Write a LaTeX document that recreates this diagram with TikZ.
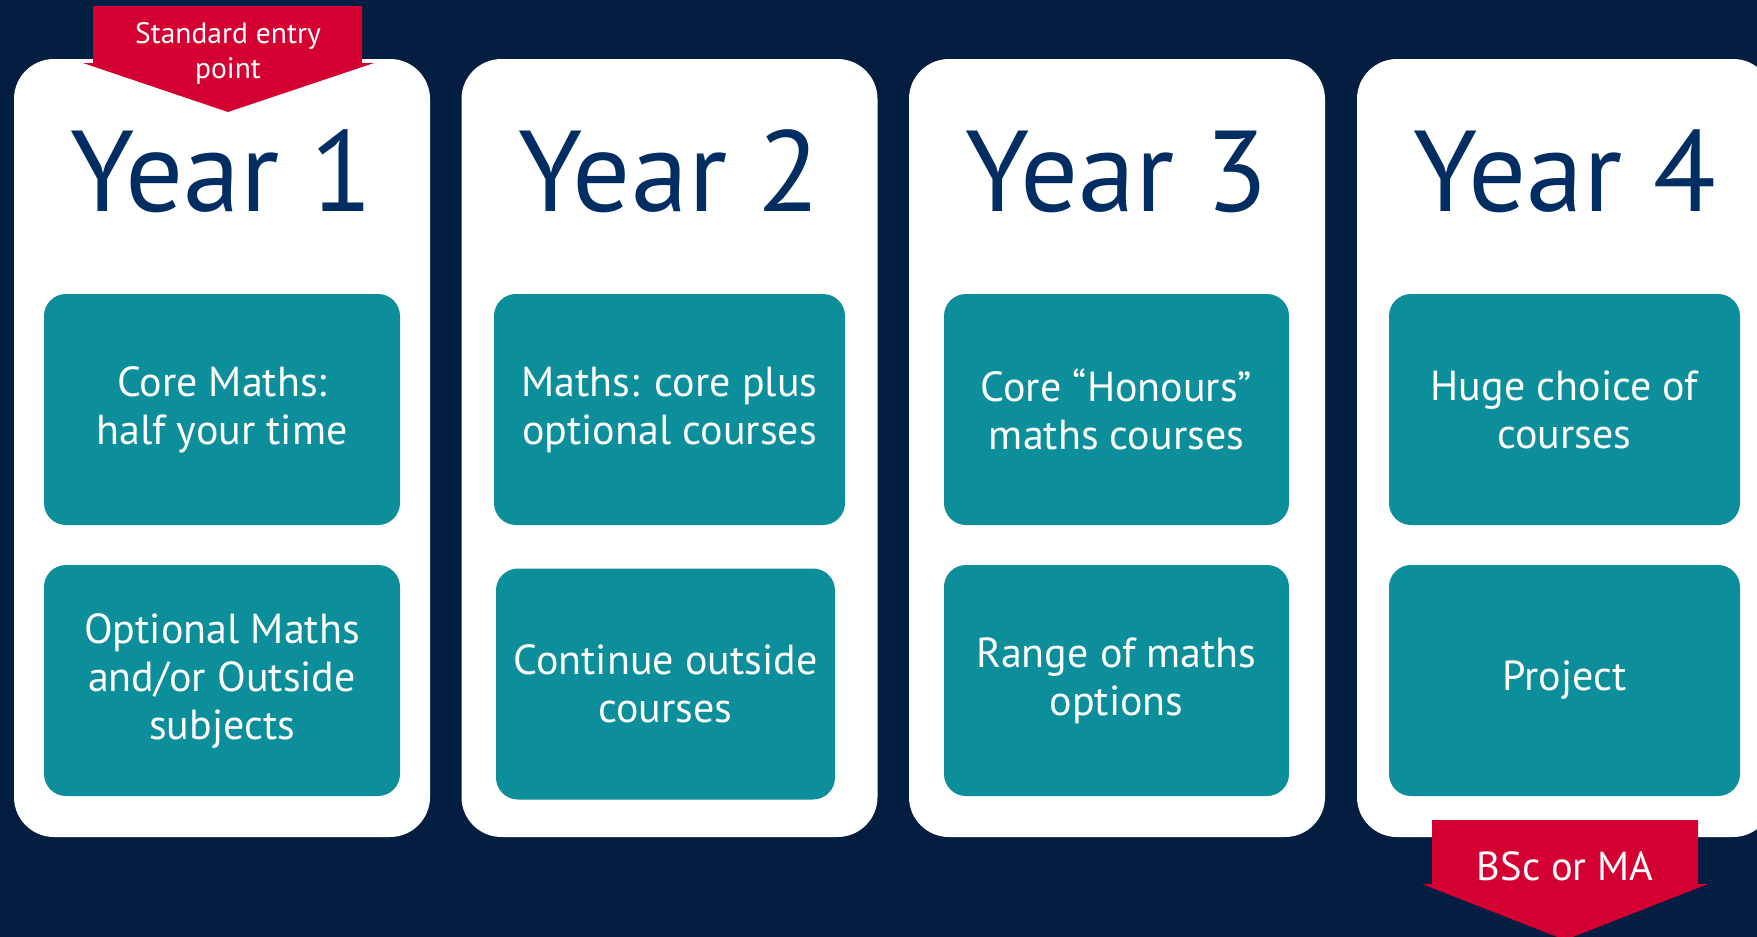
\documentclass[tikz,border=0pt]{standalone}
\usepackage{fontspec}
\setmainfont{PT Sans}

\definecolor{bgnavy}{RGB}{4,30,66}
\definecolor{yearblue}{RGB}{0,45,98}
\definecolor{boxteal}{RGB}{12,142,155}
\definecolor{arrowred}{RGB}{213,0,50}

\tikzset{
  card/.style={fill=white, rounded corners=40pt, minimum width=416pt,
    minimum height=778pt, inner sep=0pt},
  unit/.style={fill=boxteal, rounded corners=22pt, minimum height=231pt,
    inner sep=0pt, text=white, align=center,
    font=\fontsize{42}{48}\selectfont},
  yeartitle/.style={text=yearblue, anchor=base, inner sep=0pt,
    font=\fontsize{115}{120}\selectfont},
  bannertext/.style={text=white, align=center, inner sep=0pt}
}

\begin{document}
\begin{tikzpicture}[x=1pt, y=-1pt]
  \useasboundingbox (0,0) rectangle (1757,937);
  \clip (0,0) rectangle (1757,937);
  \fill[bgnavy] (0,0) rectangle (1757,937);

  % year cards
  \node[card] (card1) at (222,448) {};
  \node[card] (card2) at (669.5,448) {};
  \node[card] (card3) at (1117,448) {};
  \node[card] (card4) at (1565,448) {};

  \node[yeartitle] (year1) at (222,211) {Year 1};
  \node[yeartitle] (year2) at (669.5,211) {Year 2};
  \node[yeartitle] (year3) at (1117,211) {Year 3};
  \node[yeartitle] (year4) at (1565,211) {Year 4};

  % course blocks
  \node[unit, minimum width=356pt] (core1) at (222,409.5) {Core Maths:\\half your time};
  \node[unit, minimum width=356pt] (opt1) at (222,680.5) {Optional Maths\\and/or Outside\\subjects};
  \node[unit, minimum width=351pt] (core2) at (669.5,409.5) {Maths: core plus\\optional courses};
  \node[unit, minimum width=339pt] (opt2) at (665.5,684) {Continue outside\\courses};
  \node[unit, minimum width=345pt] (core3) at (1116.5,409.5) {Core “Honours”\\maths courses};
  \node[unit, minimum width=345pt] (opt3) at (1116.5,680.5) {Range of maths\\options};
  \node[unit, minimum width=351pt] (core4) at (1564.5,409.5) {Huge choice of\\courses};
  \node[unit, minimum width=351pt] (proj4) at (1564.5,680.5) {Project};

  % entry and exit arrows
  \fill[arrowred] (93,6) -- (362,6) -- (362,63) -- (374,63) -- (228,112)
    -- (83,63) -- (93,63) -- cycle;
  \node[bannertext, font=\fontsize{29.5}{35}\selectfont] (entry) at (228,53) {Standard entry\\point};

  \fill[arrowred] (1432,820) -- (1698,820) -- (1698,884) -- (1708,884)
    -- (1565,940) -- (1422,884) -- (1432,884) -- cycle;
  \node[bannertext, anchor=base, font=\fontsize{40.5}{46}\selectfont] (degree) at (1565,880) {BSc or MA};
\end{tikzpicture}
\end{document}
